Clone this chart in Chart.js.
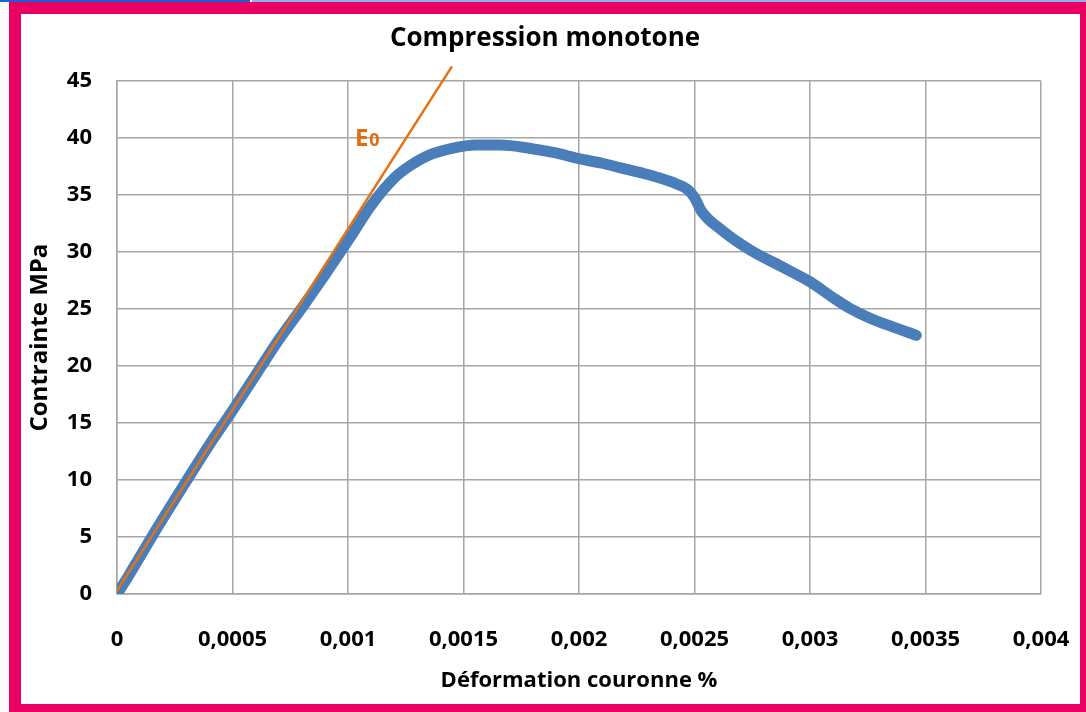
<!DOCTYPE html>
<html>
<head>
<meta charset="utf-8">
<script src="https://cdn.jsdelivr.net/npm/chart.js@4"></script>
<style>
  body { margin: 0; width: 1086px; height: 712px; overflow: hidden; background: #fbfbfb; position: relative; }
  .strip-a { position: absolute; left: 0; top: 0; width: 250px; height: 2px; background: #1a5fd2; }
  .strip-b { position: absolute; left: 252px; top: 0; width: 834px; height: 2px; background: #8db2f2; }
  .frame { position: absolute; left: 9px; top: 2px; width: 1059px; height: 690px;
           border-style: solid; border-color: #ea0062; border-width: 12px 6px 8px 12px; background: #fff; }
  .frame div { position: relative; width: 1059px; height: 690px; }
</style>
</head>
<body>
<div class="strip-a"></div>
<div class="strip-b"></div>
<div class="frame"><div><canvas id="my-chart"></canvas></div></div>
<script>
'use strict';

// courbe de compression
let strain = [0, 0.00005, 0.00015, 0.0003, 0.0004, 0.0005, 0.0006, 0.0007, 0.0008, 0.0009, 0.001,
  0.0011, 0.0012, 0.00127, 0.00135, 0.00145, 0.00155, 0.00166, 0.00179, 0.0019, 0.002,
  0.0021, 0.00218, 0.00228, 0.00235, 0.00242, 0.00247, 0.0025, 0.00253, 0.00262, 0.00274,
  0.00288, 0.003, 0.0031, 0.00317, 0.00326, 0.00335, 0.00346];
let stress = [0, 1.6, 5, 9.9, 13.1, 16.1, 19.2, 22.3, 25.1, 28, 31,
  34.1, 36.5, 37.6, 38.5, 39.1, 39.4, 39.4, 39.1, 38.7, 38.2,
  37.8, 37.4, 36.9, 36.5, 36.0, 35.5, 34.8, 33.6, 31.9, 30.2,
  28.7, 27.4, 26.0, 25.1, 24.2, 23.5, 22.7];

// droite du module initial E0
let e0Strain = [0, 0.00145];
let e0Stress = [0.3, 46.3];

let xTickLabels = ['0', '0,0005', '0,001', '0,0015', '0,002', '0,0025', '0,003', '0,0035', '0,004'];
let yTickLabels = ['0', '5', '10', '15', '20', '25', '30', '35', '40', '45'];

let canvasElem = document.getElementById('my-chart');

function renderChart() {

  let curvePts = [];
  for (let i = 0; i < strain.length; i++) {
    curvePts.push({ x: strain[i], y: stress[i] });
  }
  let e0Pts = [];
  for (let i = 0; i < e0Strain.length; i++) {
    e0Pts.push({ x: e0Strain[i], y: e0Stress[i] });
  }

  let gridColor = '#a6a6a6';
  let fontFam = '"Open Sans", sans-serif';

  // petit label E0 a cote de la droite
  let e0Label = {
    id: 'e0Label',
    afterDatasetsDraw(chart) {
      let ctx = chart.ctx;
      let px = chart.scales.x.getPixelForValue(0.00103);
      let py = chart.scales.y.getPixelForValue(39.3);
      ctx.save();
      ctx.fillStyle = '#e46c0a';
      ctx.textBaseline = 'alphabetic';
      ctx.font = 'bold 24px ' + fontFam;
      ctx.fillText('E', px, py);
      let w = ctx.measureText('E').width;
      ctx.font = 'bold 18px ' + fontFam;
      ctx.fillText('0', px + w + 1, py);
      ctx.restore();
    }
  };

  let chartObj = {
    type: 'line',
    data: {
      datasets: [{
        label: 'Compression monotone',
        data: curvePts,
        borderColor: '#4a7ebb',
        borderWidth: 11,
        pointRadius: 0,
        cubicInterpolationMode: 'monotone',
        borderCapStyle: 'round',
        order: 1
      },
      {
        label: 'E0',
        data: e0Pts,
        borderColor: '#e8710f',
        borderWidth: 2.5,
        pointRadius: 0,
        clip: false,
        order: 0
      }]
    },
    options: {
      responsive: true,
      maintainAspectRatio: false,
      animation: false,
      layout: { padding: { left: 0, right: 11, top: 0, bottom: 0 } },
      scales: {
        x: {
          type: 'linear',
          min: 0,
          max: 0.004,
          afterFit: function (scale) {
            scale.height = 110;
            scale.paddingLeft = 0;
            scale.paddingRight = 39;
          },
          ticks: {
            stepSize: 0.0005,
            padding: 33,
            color: '#000',
            font: { family: fontFam, size: 22, weight: 'bold' },
            callback: function (v, idx) { return xTickLabels[idx]; }
          },
          grid: { color: gridColor, lineWidth: 1.5, drawTicks: false },
          border: { color: gridColor, width: 1.5 },
          title: {
            display: true,
            text: 'Déformation couronne %',
            color: '#000',
            font: { family: fontFam, size: 22, weight: 'bold' },
            padding: { top: 0, bottom: 10 }
          }
        },
        y: {
          min: 0,
          max: 45,
          afterFit: function (scale) { scale.width = 96; },
          ticks: {
            stepSize: 5,
            padding: 25,
            color: '#000',
            font: { family: fontFam, size: 22, weight: 'bold' },
            callback: function (v, idx) { return yTickLabels[idx]; }
          },
          grid: { color: gridColor, lineWidth: 1.5, drawTicks: false },
          border: { color: gridColor, width: 1.5 },
          title: {
            display: true,
            text: 'Contrainte MPa',
            color: '#000',
            font: { family: fontFam, size: 24, weight: 'bold' },
            padding: { top: 5, bottom: 0 }
          }
        }
      },
      plugins: {
        legend: { display: false },
        tooltip: { enabled: false },
        title: {
          display: true,
          text: 'Compression monotone',
          color: '#000',
          font: { family: fontFam, size: 26, weight: 'bold' },
          padding: { top: 9, bottom: 27 }
        }
      }
    },
    plugins: [e0Label]
  };

  new Chart(canvasElem, chartObj); //eslint-disable-line
}

renderChart();
</script>
</body>
</html>
